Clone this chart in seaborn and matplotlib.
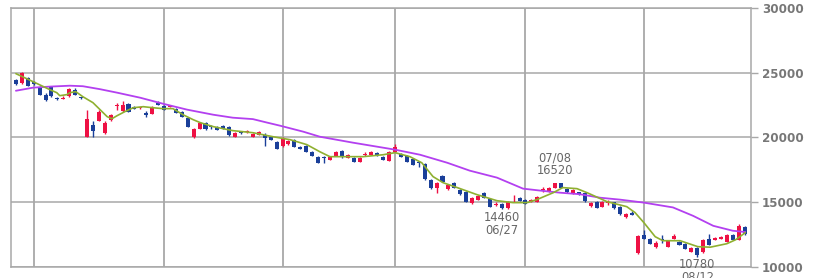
import numpy as np
import pandas as pd
import seaborn as sns
import matplotlib
matplotlib.use("Agg")
import matplotlib.pyplot as plt

# ---- data ----
opens = [24470, 24230, 24620, 24300, 23920, 23300, 23900, 23000, 22980, 23230,
         23700, 23100, 20060, 21000, 21300, 20370, 21380, 22450, 22070, 22610,
         22380, 22260, 21920, 21840, 22690, 22460, 22380, 22230, 22000, 21530,
         20060, 20680, 21150, 20840, 20840, 20910, 20840, 20060, 20380, 20430,
         20060, 20220, 20220, 20060, 19680, 19370, 19520, 19830, 19290, 19370,
         18900, 18520, 18450, 18290, 18600, 18980, 18440, 18440, 18130, 18650,
         18670, 18830, 18520, 18210, 18900, 18750, 18600, 18360, 18100, 17980,
         16740, 16130, 17050, 16050, 16510, 15970, 15820, 14970, 15200, 15740,
         15280, 14800, 14890, 14580, 15300, 15350, 15200, 15050, 15050, 15950,
         15820, 16130, 16450, 16050, 15660, 15780, 15740, 14700, 15040, 14660,
         14980, 15000, 14660, 13850, 14200, 11110, 12500, 12190, 11570, 12100,
         11570, 12190, 11960, 11800, 11180, 11490, 11180, 12190, 12110, 12190,
         11960, 12500, 12110, 13110]
highs = [24550, 25080, 24700, 24400, 24000, 23400, 24000, 23150, 23200, 23850,
         23800, 23120, 22150, 21250, 22150, 21300, 21780, 22700, 22800, 22650,
         22420, 22350, 22070, 22450, 22800, 22500, 22450, 22300, 22050, 21600,
         20750, 21220, 21200, 20950, 20900, 20950, 20900, 20420, 20450, 20550,
         20350, 20500, 20370, 20100, 19750, 20050, 19800, 19900, 19330, 19420,
         18950, 18600, 18600, 18580, 18980, 19050, 18720, 18500, 18500, 18900,
         18980, 18900, 18550, 18950, 19520, 18800, 18650, 18400, 18150, 18050,
         16800, 16560, 17100, 16400, 16600, 16000, 15900, 15400, 15550, 15800,
         15330, 15050, 14950, 15100, 15550, 15400, 15250, 15250, 15500, 16200,
         16200, 16520, 16500, 16100, 16000, 15820, 15800, 15000, 15100, 15100,
         15150, 15050, 14700, 14180, 14300, 12500, 12880, 12250, 12030, 12500,
         12100, 12550, 12000, 11850, 11550, 11550, 12200, 12570, 12330, 12420,
         12550, 12550, 13300, 13200]
lows = [24080, 24150, 23950, 24080, 23250, 22850, 23150, 22900, 22950, 23150,
        23250, 23000, 20000, 20050, 21250, 20300, 21300, 22150, 22000, 21950,
        22180, 22200, 21610, 21800, 22500, 22100, 22330, 21880, 21550, 20780,
        19950, 20650, 20600, 20680, 20550, 20620, 20150, 20000, 20300, 20350,
        20000, 20180, 19370, 19780, 19080, 19300, 19450, 19250, 19100, 18850,
        18550, 18000, 18050, 18250, 18550, 18450, 18400, 18080, 18080, 18550,
        18620, 18550, 18250, 18150, 18850, 18480, 18080, 17850, 17750, 16750,
        16050, 15740, 16550, 15980, 16080, 15580, 15000, 14900, 15150, 15300,
        14620, 14680, 14460, 14500, 15050, 15080, 14850, 15000, 15000, 15800,
        15780, 16080, 16080, 15750, 15620, 15550, 15050, 14650, 14550, 14620,
        14800, 14500, 14020, 13820, 14000, 11000, 12150, 11750, 11490, 11880,
        11520, 12150, 11680, 11380, 11150, 10780, 11100, 11680, 12070, 12150,
        11900, 12050, 12050, 12500]
closes = [24160, 25000, 24000, 24150, 23300, 22920, 23230, 22980, 23020, 23770,
          23300, 23050, 21450, 20530, 21990, 21150, 21700, 22480, 22530, 22000,
          22230, 22320, 21760, 22380, 22530, 22150, 22400, 21920, 21610, 20840,
          20680, 21150, 20680, 20820, 20600, 20680, 20220, 20370, 20360, 20450,
          20300, 20450, 19990, 19830, 19140, 19990, 19750, 19290, 19140, 18900,
          18600, 18050, 18420, 18520, 18900, 18520, 18670, 18130, 18440, 18680,
          18900, 18600, 18290, 18900, 19250, 18520, 18130, 17900, 18000, 16820,
          16130, 16510, 16590, 16360, 16130, 15620, 15050, 15350, 15500, 15350,
          14660, 14900, 14580, 15050, 15350, 15120, 14900, 15200, 15430, 15980,
          16130, 16500, 16130, 15800, 15970, 15600, 15100, 14950, 14580, 15040,
          15000, 14560, 14060, 14120, 14050, 12420, 12190, 11800, 11880, 12080,
          12030, 12420, 11720, 11420, 11490, 10950, 12110, 11720, 12270, 12340,
          12500, 12110, 13190, 12570]

# short moving average (green), read at sample points: candle index, price
ma_short_idx = [0.0, 2.9, 5.75, 6.9, 7.4, 8.6, 9.1, 10.1, 11.3, 13.0, 14.2, 15.4,
                16.2, 17.1, 18.4, 19.8, 21.5, 23.1, 24.8, 26.5, 28.2, 29.9, 31.1,
                33.3, 36.6, 40.0, 43.4, 46.3, 49.1, 51.3, 53.0, 55.2, 58.6, 62.0,
                64.0, 66.5, 68.5, 70.4, 72.1, 74.5, 77.8, 81.2, 83.9, 86.3, 87.9,
                90.7, 92.3, 94.7, 96.4, 99.8, 103.1, 104.5, 106.0, 107.9, 109.2,
                112.1, 115.1, 117.2, 120.0, 121.5, 123.1]
ma_short_val = [24930, 24310, 23690, 23460, 23230, 23310, 23460, 23540, 23150,
                22690, 22150, 21610, 21450, 21690, 22000, 22300, 22380, 22300,
                22230, 22230, 21760, 21380, 21150, 20840, 20530, 20370, 20060,
                19830, 19450, 18900, 18520, 18520, 18520, 18670, 18830, 18520,
                18050, 16980, 16510, 16130, 15590, 15120, 14970, 14970, 15200,
                15740, 16130, 16050, 15740, 15040, 14660, 14200, 13420, 12340,
                12030, 12030, 11570, 11530, 11800, 12110, 12650]

# long moving average (purple)
ma_long_idx = [0.0, 2.9, 5.75, 9.1, 11.3, 14.2, 17.1, 21.0, 24.8, 28.9, 33.3,
               36.6, 40.0, 42.4, 44.6, 48.5, 51.3, 56.9, 64.0, 68.2, 72.8, 76.6,
               81.2, 85.6, 88.5, 91.8, 95.2, 98.6, 102.0, 106.0, 110.9, 114.3,
               117.7, 121.0, 123.1]
ma_long_val = [23610, 23850, 23930, 24000, 23960, 23730, 23460, 23070, 22610,
               22150, 21760, 21530, 21420, 21150, 20910, 20450, 20060, 19600,
               19060, 18670, 18050, 17440, 16900, 16050, 15900, 15740, 15620,
               15350, 15200, 14970, 14600, 13950, 13180, 12800, 12700]

month_start_idx = [3, 25, 45, 64, 86, 106]
y_ticks = [10000, 15000, 20000, 25000, 30000]

# annotations: (candle index, price, label, position)
ann_idx = [91, 82, 115]
ann_text = ["07/08\n16520", "14460\n06/27", "10780\n08/12"]
ann_above = [True, False, False]

# ---- drawing ----
sns.set_theme(style="white")
plt.rcParams["font.family"] = ["DejaVu Sans"]

fig = plt.figure(figsize=(8.24, 2.78), dpi=100)
ax = fig.add_axes([11 / 824, 11 / 278, 740 / 824, 259 / 278])

n = len(closes)
x = np.arange(n)
o = np.array(opens); h = np.array(highs); l = np.array(lows); c = np.array(closes)
up = c >= o
RED = "#ee1144"
BLUE = "#1a3f99"
colors = np.where(up, RED, BLUE)

grid_c = "#a8a8a8"
for yv in y_ticks:
    ax.axhline(yv, color=grid_c, lw=1.1, zorder=0)
for xv in month_start_idx:
    ax.axvline(xv, color=grid_c, lw=1.3, zorder=0)

ax.vlines(x, l, h, colors=colors, lw=1.0, zorder=2)
body_h = np.maximum(np.abs(c - o), 45)
body_b = np.minimum(o, c)
ax.bar(x, body_h, bottom=body_b, width=0.68, color=colors, edgecolor="none", zorder=3)

df_s = pd.DataFrame({"idx": ma_short_idx, "val": ma_short_val})
df_l = pd.DataFrame({"idx": ma_long_idx, "val": ma_long_val})
sns.lineplot(data=df_l, x="idx", y="val", ax=ax, color="#b340f0", lw=1.3, zorder=4, sort=True)
sns.lineplot(data=df_s, x="idx", y="val", ax=ax, color="#8fb030", lw=1.2, zorder=4, sort=True)

for i, txt, above in zip(ann_idx, ann_text, ann_above):
    if above:
        ax.annotate(txt, (i, highs[i]), xytext=(0, 4), textcoords="offset points",
                    ha="center", va="bottom", fontsize=8.3, color="#666666",
                    linespacing=0.95, annotation_clip=False, zorder=5)
    else:
        ax.annotate(txt, (i, lows[i]), xytext=(0, -1), textcoords="offset points",
                    ha="center", va="top", fontsize=8.3, color="#666666",
                    linespacing=0.95, annotation_clip=False, zorder=5)

ax.set_xlim(-0.83, 124.07)
ax.set_ylim(10000, 30000)
ax.set_xticks([])
ax.set_yticks(y_ticks)
ax.set_yticklabels([str(v) for v in y_ticks])
ax.yaxis.tick_right()
ax.tick_params(axis="y", which="major", right=True, left=False, length=5, width=1,
               color=grid_c, pad=3, labelsize=8.6, labelcolor="#777777")
for lab in ax.get_yticklabels():
    lab.set_fontweight("bold")
ax.set_xlabel(""); ax.set_ylabel("")
for sp in ax.spines.values():
    sp.set_color(grid_c)
    sp.set_linewidth(1.1)
    sp.set_visible(True)
ax.set_facecolor("white")
fig.patch.set_facecolor("white")

fig.savefig("out.png", dpi=100)
